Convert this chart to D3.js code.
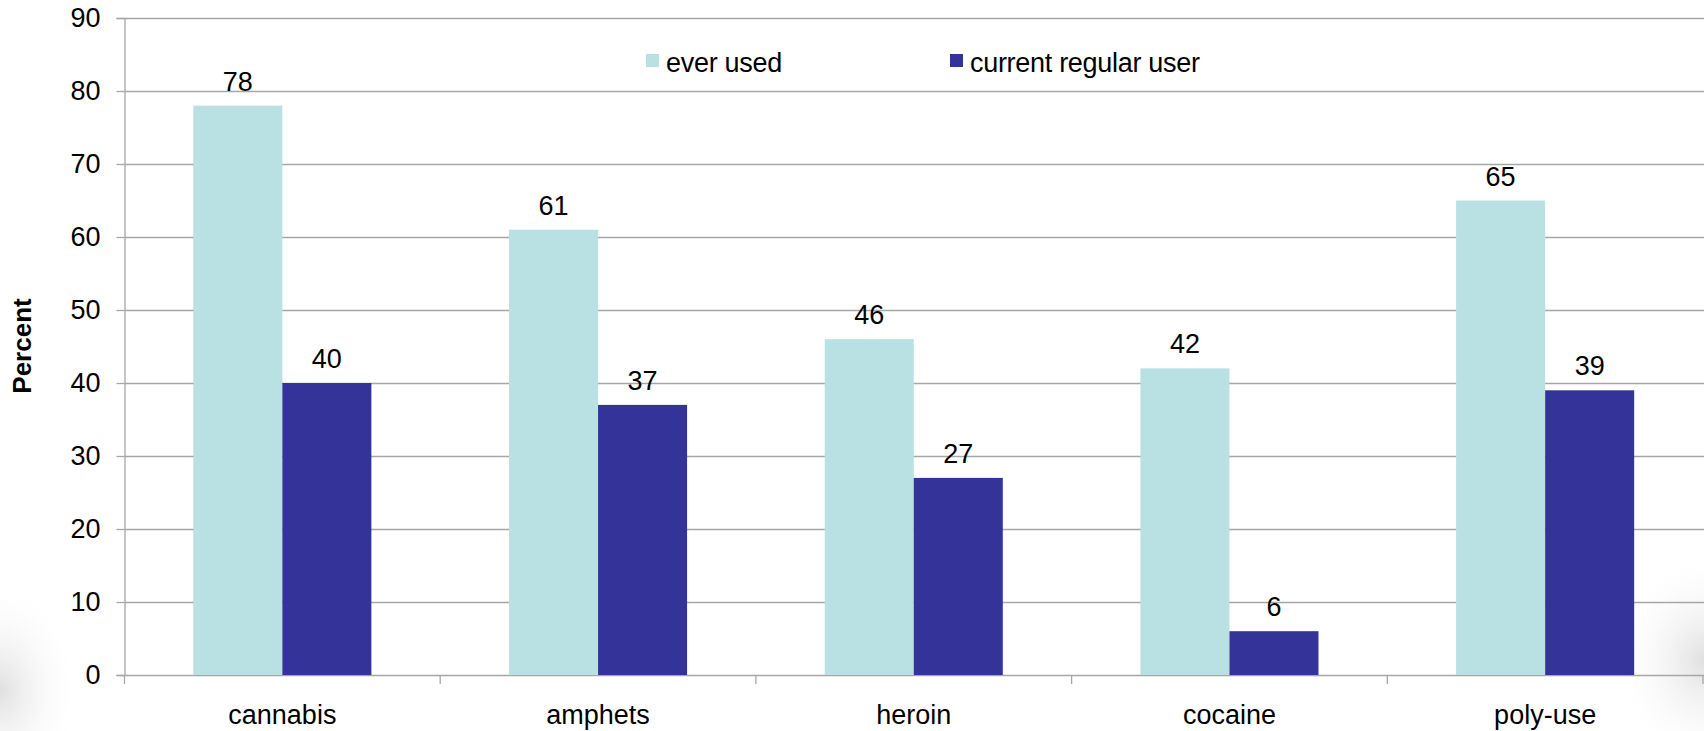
<!DOCTYPE html>
<html>
<head>
<meta charset="utf-8">
<script src="https://cdn.jsdelivr.net/npm/d3@7"></script>
<style>
  body { margin: 0; background: #fff; overflow: hidden; }
  text { font-family: "Liberation Sans", Arial, sans-serif; fill: #000; }
</style>
</head>
<body>
<div id="chart"></div>
<script>
// data
var categories = ["cannabis", "amphets", "heroin", "cocaine", "poly-use"];
var everUsed = [78, 61, 46, 42, 65];
var currentUser = [40, 37, 27, 6, 39];
var seriesNames = ["ever used", "current regular user"];
var seriesColors = ["#b9e0e3", "#333399"];
var yTicks = [0, 10, 20, 30, 40, 50, 60, 70, 80, 90];

var W = 1704, H = 731;
var margin = { top: 18, right: 1, bottom: 56, left: 124.5 };
var width = W - margin.left - margin.right,
    height = H - margin.top - margin.bottom;

var svg = d3.select("#chart").append("svg")
    .attr("width", W)
    .attr("height", H);

// faint background blobs in the corners
var defs = svg.append("defs");
var rg = defs.append("radialGradient").attr("id", "blob");
rg.append("stop").attr("offset", "0%").attr("stop-color", "#d8d8d8").attr("stop-opacity", 0.8);
rg.append("stop").attr("offset", "100%").attr("stop-color", "#ffffff").attr("stop-opacity", 0);
svg.append("ellipse").attr("cx", 0).attr("cy", 690).attr("rx", 80).attr("ry", 110).attr("fill", "url(#blob)");
svg.append("ellipse").attr("cx", 1704).attr("cy", 660).attr("rx", 90).attr("ry", 110).attr("fill", "url(#blob)");

var g = svg.append("g")
    .attr("transform", "translate(" + margin.left + "," + margin.top + ")");

var x0 = d3.scaleBand()
    .domain(categories)
    .range([0, width])
    .paddingInner(0.436)
    .paddingOuter(0.218);

var x1 = d3.scaleBand()
    .domain(seriesNames)
    .range([0, x0.bandwidth()]);

var y = d3.scaleLinear()
    .domain([0, 90])
    .range([height, 0]);

// gridlines
g.selectAll(".grid").data(yTicks).enter()
  .append("line")
    .attr("x1", 0).attr("x2", width + margin.right)
    .attr("y1", function(d) { return y(d) + 0.5; })
    .attr("y2", function(d) { return y(d) + 0.5; })
    .attr("stroke", "#a6a6a6")
    .attr("stroke-width", 1.3);

// y axis
var yAxis = g.append("g")
    .call(d3.axisLeft(y).tickValues(yTicks).tickSize(8).tickPadding(16));
yAxis.select(".domain").attr("stroke", "#a6a6a6").attr("stroke-width", 1.3);
yAxis.selectAll(".tick line").attr("stroke", "#a6a6a6").attr("stroke-width", 1.3);
yAxis.selectAll(".tick text").attr("font-size", 27).attr("fill", "#000");

// x axis: ticks at band boundaries
var xa = g.append("g").attr("transform", "translate(0," + height + ")");
xa.selectAll("line.bt").data(d3.range(categories.length + 1)).enter()
  .append("line")
    .attr("x1", function(i) { return i * width / categories.length; })
    .attr("x2", function(i) { return i * width / categories.length; })
    .attr("y1", 0).attr("y2", 9)
    .attr("stroke", "#a6a6a6").attr("stroke-width", 1.3);
xa.selectAll("text.cat").data(categories).enter()
  .append("text")
    .attr("x", function(d) { return x0(d) + x0.bandwidth() / 2; })
    .attr("y", 49)
    .attr("text-anchor", "middle")
    .attr("font-size", 27)
    .text(function(d) { return d; });

// bars
var rows = categories.map(function(c, i) {
  return { cat: c, vals: [everUsed[i], currentUser[i]] };
});

var groups = g.selectAll(".grp").data(rows).enter()
  .append("g")
    .attr("transform", function(d) { return "translate(" + x0(d.cat) + ",0)"; });

groups.selectAll("rect").data(function(d) {
    return d.vals.map(function(v, j) { return { s: seriesNames[j], v: v, c: seriesColors[j] }; });
  }).enter()
  .append("rect")
    .attr("x", function(d) { return x1(d.s); })
    .attr("width", x1.bandwidth())
    .attr("y", function(d) { return y(d.v); })
    .attr("height", function(d) { return height - y(d.v); })
    .attr("fill", function(d) { return d.c; });

groups.selectAll("text.val").data(function(d) {
    return d.vals.map(function(v, j) { return { s: seriesNames[j], v: v }; });
  }).enter()
  .append("text")
    .attr("x", function(d) { return x1(d.s) + x1.bandwidth() / 2; })
    .attr("y", function(d) { return y(d.v) - 15; })
    .attr("text-anchor", "middle")
    .attr("font-size", 27)
    .text(function(d) { return d.v; });

// y axis title
svg.append("text")
    .attr("transform", "translate(31,346) rotate(-90)")
    .attr("text-anchor", "middle")
    .attr("font-size", 26)
    .attr("font-weight", "bold")
    .text("Percent");

// legend
var legendX = [646, 950];
var legend = svg.selectAll(".leg").data(seriesNames).enter()
  .append("g")
    .attr("transform", function(d, i) { return "translate(" + legendX[i] + ",54)"; });
legend.append("rect")
    .attr("width", 13).attr("height", 13)
    .attr("fill", function(d, i) { return seriesColors[i]; });
legend.append("text")
    .attr("x", 20).attr("y", 18)
    .attr("font-size", 27)
    .attr("letter-spacing", -0.3)
    .text(function(d) { return d; });
</script>
</body>
</html>
